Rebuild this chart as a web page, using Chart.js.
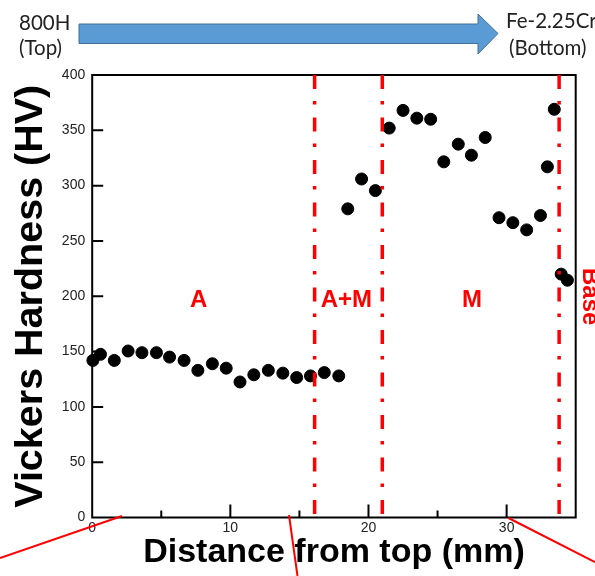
<!DOCTYPE html>
<html>
<head>
<meta charset="utf-8">
<script src="https://cdn.jsdelivr.net/npm/chart.js@4.4.0/dist/chart.umd.min.js"></script>
<style>
  html, body { margin: 0; padding: 0; background: #fff; }
  #wrap { width: 595px; height: 576px; }
</style>
</head>
<body>
<div id="wrap"><canvas id="hvChart" width="595" height="576"></canvas></div>
<script>
// distance from top surface (mm) and Vickers hardness
const distanceMm = [0.05, 0.6, 1.6, 2.6, 3.6, 4.65, 5.6, 6.65, 7.65, 8.7, 9.7, 10.7, 11.7, 12.75, 13.8, 14.8, 15.8, 16.8, 17.85,
  18.5, 19.5, 20.5, 21.5, 22.5, 23.5, 24.5, 25.45, 26.5, 27.45, 28.45, 29.45, 30.45, 31.45, 32.45, 32.95, 33.45, 33.95, 34.4];
const hardnessHV = [142, 147.5, 142, 150.5, 149, 149, 145, 142, 133, 139, 135, 122.5, 129, 133, 130.5, 126.5, 128, 131, 128,
  279, 306, 295.5, 352, 368, 361, 360, 321.5, 337.5, 327.5, 343.5, 271, 266.5, 260, 273, 317, 369, 220, 214.5];

// zone boundaries (mm) and zone names
const boundaries = [16.1, 21.0, 33.8];
const zoneNames = ['A', 'A+M', 'M'];
const zoneCenters = [7.7, 18.4, 27.5];
const xLabelTicks = [0, 10, 20, 30];
const yRange = [0, 400];

const RED = '#ff0000';

const boundarySets = boundaries.map(b => ({
  type: 'line',
  data: [{ x: b, y: yRange[1] }, { x: b, y: yRange[0] }],
  borderColor: RED,
  borderWidth: 3.5,
  borderDash: [14, 12, 3.5, 13],
  pointRadius: 0,
  fill: false,
  order: 0
}));

const decor = {
  id: 'decor',
  beforeDatasetsDraw(chart) {
    const { ctx, chartArea: a, scales: { x, y } } = chart;
    ctx.save();
    ctx.strokeStyle = '#000';
    ctx.lineWidth = 2;
    ctx.strokeRect(a.left, a.top, a.right - a.left, a.bottom - a.top);
    ctx.beginPath();
    for (let v = 5; v < 35; v += 5) {
      const px = x.getPixelForValue(v);
      const len = v % 10 === 0 ? 13 : 7;
      ctx.moveTo(px, a.bottom);
      ctx.lineTo(px, a.bottom - len);
    }
    for (let v = 50; v <= 400; v += 50) {
      const py = y.getPixelForValue(v);
      ctx.moveTo(a.left, py);
      ctx.lineTo(a.left + 11, py);
    }
    ctx.stroke();
    ctx.restore();
  },
  afterDraw(chart) {
    const { ctx, scales: { x, y } } = chart;
    ctx.save();
    // zone labels
    ctx.fillStyle = RED;
    ctx.font = 'bold 24px "Liberation Sans", Arial, sans-serif';
    ctx.textAlign = 'center';
    ctx.textBaseline = 'middle';
    zoneNames.forEach((n, i) => {
      ctx.fillText(n, x.getPixelForValue(zoneCenters[i]), y.getPixelForValue(196));
    });
    // rotated "Base" at the right edge
    ctx.save();
    ctx.translate(583, 268);
    ctx.rotate(Math.PI / 2);
    ctx.textAlign = 'left';
    ctx.textBaseline = 'alphabetic';
    ctx.fillText('Base', 0, 0);
    ctx.restore();

    // direction arrow on top
    ctx.beginPath();
    ctx.moveTo(79, 24);
    ctx.lineTo(478, 24);
    ctx.lineTo(478, 14);
    ctx.lineTo(498, 33.5);
    ctx.lineTo(478, 54);
    ctx.lineTo(478, 43.5);
    ctx.lineTo(79, 43.5);
    ctx.closePath();
    ctx.fillStyle = '#5b9bd5';
    ctx.fill();
    ctx.strokeStyle = '#41719c';
    ctx.lineWidth = 1;
    ctx.stroke();

    ctx.fillStyle = '#222';
    ctx.font = '20.5px Lato, "Open Sans", sans-serif';
    ctx.textAlign = 'left';
    ctx.textBaseline = 'alphabetic';
    ctx.fillText('800H', 19, 29.5);
    ctx.fillText('(Top)', 19, 55);
    ctx.fillText('Fe-2.25Cr', 506, 28);
    ctx.fillText('(Bottom)', 509, 55);

    // thin red connector lines
    ctx.strokeStyle = RED;
    ctx.lineWidth = 2;
    ctx.beginPath();
    ctx.moveTo(0, 558); ctx.lineTo(122, 516);
    ctx.moveTo(289, 515); ctx.lineTo(297.5, 576);
    ctx.moveTo(508.5, 518); ctx.lineTo(595, 562);
    ctx.stroke();
    ctx.restore();
  }
};

new Chart(document.getElementById('hvChart'), {
  type: 'scatter',
  data: {
    datasets: [
      ...boundarySets,
      {
        label: 'Hardness',
        data: distanceMm.map((d, i) => ({ x: d, y: hardnessHV[i] })),
        backgroundColor: '#000',
        borderColor: '#000',
        pointRadius: 6,
        pointHoverRadius: 6,
        order: 1
      }
    ]
  },
  options: {
    responsive: false,
    animation: false,
    clip: false,
    layout: { padding: { top: 75, right: 19.3, bottom: 0, left: 0 } },
    plugins: { legend: { display: false }, tooltip: { enabled: false } },
    scales: {
      x: {
        type: 'linear',
        min: 0,
        max: 35,
        grid: { display: false, drawTicks: false },
        border: { display: false },
        ticks: {
          stepSize: 5,
          padding: 2,
          color: '#222',
          font: { family: '"Liberation Sans", Arial, sans-serif', size: 14 },
          maxRotation: 0,
          autoSkip: false,
          callback: v => xLabelTicks.includes(v) ? String(v) : ''
        },
        title: {
          display: true,
          text: 'Distance from top (mm)',
          color: '#000',
          font: { family: '"Liberation Sans", Arial, sans-serif', size: 34, weight: 'bold' },
          padding: { top: 0, bottom: 2.5 }
        },
        afterFit: s => { s.height = 58.5; }
      },
      y: {
        min: yRange[0],
        max: yRange[1],
        grid: { display: false, drawTicks: false },
        border: { display: false },
        ticks: {
          stepSize: 50,
          padding: 7,
          color: '#222',
          font: { family: '"Liberation Sans", Arial, sans-serif', size: 14 }
        },
        title: {
          display: true,
          text: 'Vickers Hardness (HV)',
          color: '#000',
          font: { family: '"Liberation Sans", Arial, sans-serif', size: 39.5, weight: 'bold' },
          padding: { top: 7, bottom: 0 }
        },
        afterFit: s => { s.width = 92.2; }
      }
    }
  },
  plugins: [decor]
});
</script>
</body>
</html>
